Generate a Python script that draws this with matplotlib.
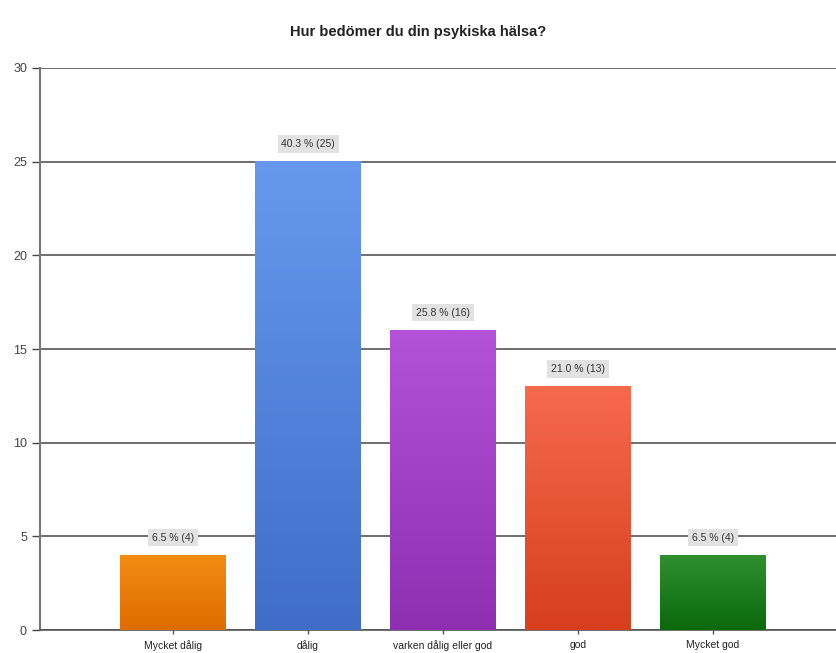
import numpy as np
import matplotlib.pyplot as plt
from matplotlib.colors import LinearSegmentedColormap

plt.rcParams['font.family'] = ['Liberation Sans', 'DejaVu Sans']

categories = ["Mycket dålig", "dålig", "varken dålig eller god", "god", "Mycket god"]
counts = [4, 25, 16, 13, 4]
percents = [6.5, 40.3, 25.8, 21.0, 6.5]
# gradient colours per bar: (top, bottom)
bar_colors = [("#F38C12", "#DE6C00"),
              ("#6699EE", "#3F6DC8"),
              ("#B452DA", "#8E2EB0"),
              ("#F66A4E", "#D63E1E"),
              ("#2F8F2F", "#0B690B")]

fig = plt.figure(figsize=(8.37, 6.53), dpi=100)
ax = fig.add_axes([0.048, 0.035, 0.952, 0.861])

x = np.arange(len(categories))
width = 0.78
bars = ax.bar(x, counts, width=width, color="none", zorder=3)

grad = np.linspace(1, 0, 256).reshape(-1, 1)
for b, (top, bottom) in zip(bars, bar_colors):
    cmap = LinearSegmentedColormap.from_list("g", [bottom, top])
    x0, y0 = b.get_x(), b.get_y()
    ax.imshow(grad, cmap=cmap, aspect="auto", zorder=3,
              extent=[x0, x0 + b.get_width(), y0, y0 + b.get_height()])

for xi, c, p in zip(x, counts, percents):
    ax.annotate(f"{p:.1f} % ({c})", (xi, c), xytext=(0, 9), textcoords="offset points",
                ha="center", va="bottom", fontsize=7.5, color="#333333", zorder=4,
                bbox=dict(boxstyle="square,pad=0.35", fc="#E2E2E2", ec="none"))

ax.set_xlim(-0.985, 4.92)
ax.set_ylim(0, 30)
ax.set_yticks([0, 5, 10, 15, 20, 25, 30])
ax.set_xticks(x)
ax.set_xticklabels(categories, fontsize=7.5, color="#222222")
ax.tick_params(axis="y", labelsize=9, colors="#444444", length=6, width=1)
ax.tick_params(axis="x", length=3, width=1, pad=4, color="#555555")
ax.grid(axis="y", color="#555555", linewidth=1.2, zorder=1)
ax.set_axisbelow(True)

for side in ["top", "right"]:
    ax.spines[side].set_visible(False)
ax.spines["left"].set_color("#777777")
ax.spines["left"].set_linewidth(1.5)
ax.spines["bottom"].set_color("#555555")
ax.spines["bottom"].set_linewidth(1.2)

fig.suptitle("Hur bedömer du din psykiska hälsa?", y=0.962, fontsize=10.5,
             fontweight="bold", color="#222222")

fig.savefig("out.png", dpi=100)
